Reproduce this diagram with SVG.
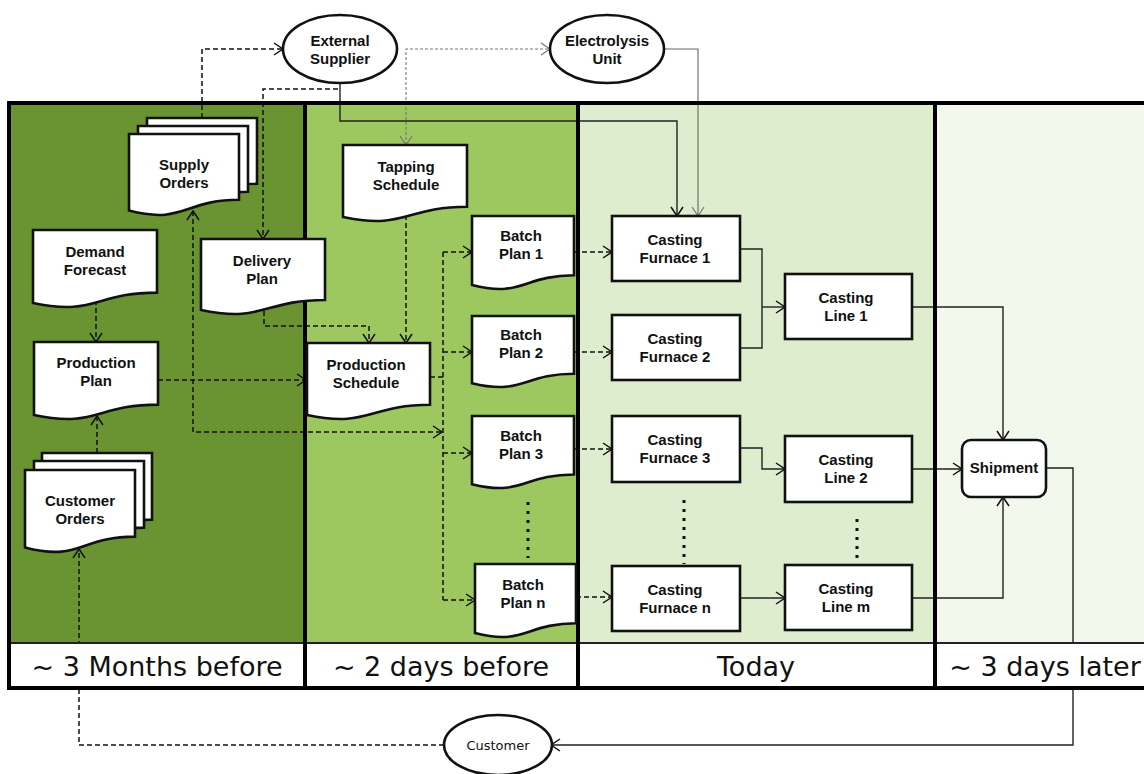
<svg xmlns="http://www.w3.org/2000/svg" width="1144" height="774" viewBox="0 0 1144 774">
  <style>
    .node { fill: #ffffff; stroke: #111111; stroke-width: 2.6; }
    .t { font-family: "Liberation Sans", Arial, sans-serif; font-weight: bold; font-size: 15px; text-anchor: middle; fill: #111111; }
    .lbl { font-family: "DejaVu Sans", Verdana, sans-serif; font-size: 27px; text-anchor: middle; fill: #111111; }
    .small { font-family: "DejaVu Sans", Verdana, sans-serif; font-size: 13px; text-anchor: middle; fill: #111111; }
    .d { fill: none; stroke: #111111; stroke-width: 1.5; stroke-dasharray: 5 3; }
    .s { fill: none; stroke: #222222; stroke-width: 1.4; }
    .gs { fill: none; stroke: #666666; stroke-width: 1.1; }
    .gd { fill: none; stroke: #777777; stroke-width: 1.1; stroke-dasharray: 3 2; }
    .dots { fill: none; stroke: #111111; stroke-width: 3; stroke-dasharray: 3 6; }
    .border { fill: none; stroke: #000000; stroke-width: 4; }
  </style>
  <defs>
    <marker id="ah" viewBox="0 0 12 14" refX="11" refY="7" markerWidth="12" markerHeight="14" markerUnits="userSpaceOnUse" orient="auto-start-reverse">
      <path d="M2,1 L11,7 L2,13" fill="none" stroke="#111111" stroke-width="1.5"/>
    </marker>
    <marker id="ahg" viewBox="0 0 12 14" refX="11" refY="7" markerWidth="12" markerHeight="14" markerUnits="userSpaceOnUse" orient="auto-start-reverse">
      <path d="M2,1 L11,7 L2,13" fill="none" stroke="#777777" stroke-width="1.2"/>
    </marker>
  </defs>

  <rect width="1144" height="774" fill="#ffffff"/>

  <!-- time phase panels -->
  <g id="panels">
    <rect x="9" y="103" width="296" height="585" fill="#6A9432"/>
    <rect x="305" y="103" width="273" height="585" fill="#9DC85F"/>
    <rect x="578" y="103" width="357" height="585" fill="#DFEDCF"/>
    <rect x="935" y="103" width="220" height="585" fill="#F2F8EC"/>
  </g>

  <!-- connectors -->
  <g id="connectors">
    <path class="d" d="M202,118 V49 H283" marker-end="url(#ah)"/>
    <path class="d" d="M338,89 H263 V239" marker-end="url(#ah)"/>
    <path class="s" d="M340,83 V121 H677 V216" marker-end="url(#ah)"/>
    <path class="gd" d="M406,145 V49 H550" marker-start="url(#ahg)" marker-end="url(#ahg)"/>
    <path class="gs" d="M665,49 H698 V216" marker-end="url(#ahg)"/>

    <path class="d" d="M96,300 V342" marker-end="url(#ah)"/>
    <path class="d" d="M97,453 V416" marker-end="url(#ah)"/>
    <path class="d" d="M444,745 H79 V549" marker-end="url(#ah)"/>
    <path class="d" d="M158,380 H306" marker-end="url(#ah)"/>
    <path class="d" d="M193,211 V432 H442" marker-start="url(#ah)" marker-end="url(#ah)"/>
    <path class="d" d="M264,311 V326 H369 V343" marker-end="url(#ah)"/>
    <path class="d" d="M406,215 V343" marker-end="url(#ah)"/>

    <path class="d" d="M430,377 H443"/>
    <path class="d" d="M443,252 V600"/>
    <path class="d" d="M443,252 H472" marker-end="url(#ah)"/>
    <path class="d" d="M443,352 H472" marker-end="url(#ah)"/>
    <path class="d" d="M443,453 H472" marker-end="url(#ah)"/>
    <path class="d" d="M443,600 H475" marker-end="url(#ah)"/>

    <path class="d" d="M574,252 H612" marker-end="url(#ah)"/>
    <path class="d" d="M574,352 H612" marker-end="url(#ah)"/>
    <path class="d" d="M574,449 H612" marker-end="url(#ah)"/>
    <path class="d" d="M576,597 H612" marker-end="url(#ah)"/>

    <path class="s" d="M740,249 H762 V348 H740"/>
    <path class="s" d="M762,307 H785" marker-end="url(#ah)"/>
    <path class="s" d="M740,448 H762 V469 H785" marker-end="url(#ah)"/>
    <path class="s" d="M740,598 H785" marker-end="url(#ah)"/>

    <path class="s" d="M912,307 H1003 V440" marker-end="url(#ah)"/>
    <path class="s" d="M912,469 H962" marker-end="url(#ah)"/>
    <path class="s" d="M912,598 H1003 V497" marker-end="url(#ah)"/>
    <path class="s" d="M1046,468 H1073 V745 H551" marker-end="url(#ah)"/>

    <path class="dots" d="M528,502 V558"/>
    <path class="dots" d="M684,500 V564"/>
    <path class="dots" d="M857,519 V558"/>
  </g>

  <!-- time labels band and panel borders -->
  <g id="timeline">
    <rect x="9" y="643" width="1146" height="45" fill="#ffffff"/>
    <line x1="9" y1="643" x2="1155" y2="643" stroke="#222222" stroke-width="2"/>
    <rect class="border" x="9" y="103" width="296" height="585"/>
    <rect class="border" x="305" y="103" width="273" height="585"/>
    <rect class="border" x="578" y="103" width="357" height="585"/>
    <rect class="border" x="935" y="103" width="220" height="585"/>
    <text class="lbl" x="157" y="676">~ 3 Months before</text>
    <text class="lbl" x="441" y="676">~ 2 days before</text>
    <text class="lbl" x="756" y="676">Today</text>
    <text class="lbl" x="1045" y="676">~ 3 days later</text>
  </g>

  <g id="external-supplier">
    <ellipse class="node" cx="340" cy="49" rx="57" ry="34"/>
    <text class="t" x="340" y="46">External</text>
    <text class="t" x="340" y="64">Supplier</text>
  </g>

  <g id="electrolysis-unit">
    <ellipse class="node" cx="607" cy="49" rx="57" ry="34"/>
    <text class="t" x="607" y="46">Electrolysis</text>
    <text class="t" x="607" y="64">Unit</text>
  </g>

  <g id="customer">
    <ellipse class="node" cx="498" cy="745" rx="54" ry="30"/>
    <text class="small" x="498" y="750">Customer</text>
  </g>

  <g id="supply-orders">
    <path class="node" d="M147,118 H257 V183.8 C202,183.8 202,208.8 147,194.6 Z"/>
    <path class="node" d="M138,126 H248 V191.8 C193,191.8 193,216.8 138,202.6 Z"/>
    <path class="node" d="M129,134 H239 V199.8 C184,199.8 184,224.8 129,210.6 Z"/>
    <text class="t" x="184" y="170">Supply</text>
    <text class="t" x="184" y="188">Orders</text>
  </g>

  <g id="demand-forecast">
    <path class="node" d="M33,230 H157 V292.6 C95,292.6 95,316.3 33,302.9 Z"/>
    <text class="t" x="95" y="257">Demand</text>
    <text class="t" x="95" y="275">Forecast</text>
  </g>

  <g id="delivery-plan">
    <path class="node" d="M201,239 H325 V300 C263,300 263,323.1 201,310 Z"/>
    <text class="t" x="262" y="266">Delivery</text>
    <text class="t" x="262" y="284">Plan</text>
  </g>

  <g id="production-plan">
    <path class="node" d="M34,342 H158 V404.6 C96,404.6 96,428.3 34,414.9 Z"/>
    <text class="t" x="96" y="368">Production</text>
    <text class="t" x="96" y="386">Plan</text>
  </g>

  <g id="customer-orders">
    <path class="node" d="M42,453 H152 V519.6 C97,519.6 97,544.9 42,530.5 Z"/>
    <path class="node" d="M34,461 H144 V527.6 C89,527.6 89,552.9 34,538.5 Z"/>
    <path class="node" d="M25,470 H135 V536.6 C80,536.6 80,561.9 25,547.5 Z"/>
    <text class="t" x="80" y="506">Customer</text>
    <text class="t" x="80" y="524">Orders</text>
  </g>

  <g id="tapping-schedule">
    <path class="node" d="M343,145 H467 V206.8 C405,206.8 405,230.2 343,216.9 Z"/>
    <text class="t" x="406" y="172">Tapping</text>
    <text class="t" x="406" y="190">Schedule</text>
  </g>

  <g id="production-schedule">
    <path class="node" d="M307,343 H430 V404.8 C368.5,404.8 368.5,428.2 307,414.9 Z"/>
    <text class="t" x="366" y="370">Production</text>
    <text class="t" x="366" y="388">Schedule</text>
  </g>

  <g id="batch-plan-1">
    <path class="node" d="M472,216 H574 V275.3 C523,275.3 523,297.9 472,285.1 Z"/>
    <text class="t" x="521" y="241">Batch</text>
    <text class="t" x="521" y="259">Plan 1</text>
  </g>

  <g id="batch-plan-2">
    <path class="node" d="M472,316 H574 V373.7 C523,373.7 523,395.7 472,383.2 Z"/>
    <text class="t" x="521" y="340">Batch</text>
    <text class="t" x="521" y="358">Plan 2</text>
  </g>

  <g id="batch-plan-3">
    <path class="node" d="M472,416 H574 V474.5 C523,474.5 523,496.8 472,484.2 Z"/>
    <text class="t" x="521" y="441">Batch</text>
    <text class="t" x="521" y="459">Plan 3</text>
  </g>

  <g id="batch-plan-n">
    <path class="node" d="M475,564 H576 V623.3 C525.5,623.3 525.5,645.9 475,633.1 Z"/>
    <text class="t" x="523" y="590">Batch</text>
    <text class="t" x="523" y="608">Plan n</text>
  </g>

  <g id="casting-furnace-1">
    <rect class="node" x="612" y="216" width="128" height="65"/>
    <text class="t" x="675" y="245">Casting</text>
    <text class="t" x="675" y="263">Furnace 1</text>
  </g>

  <g id="casting-furnace-2">
    <rect class="node" x="612" y="315" width="128" height="65"/>
    <text class="t" x="675" y="344">Casting</text>
    <text class="t" x="675" y="362">Furnace 2</text>
  </g>

  <g id="casting-furnace-3">
    <rect class="node" x="612" y="416" width="128" height="66"/>
    <text class="t" x="675" y="445">Casting</text>
    <text class="t" x="675" y="463">Furnace 3</text>
  </g>

  <g id="casting-furnace-n">
    <rect class="node" x="612" y="566" width="128" height="65"/>
    <text class="t" x="675" y="595">Casting</text>
    <text class="t" x="675" y="613">Furnace n</text>
  </g>

  <g id="casting-line-1">
    <rect class="node" x="785" y="274" width="127" height="65"/>
    <text class="t" x="846" y="303">Casting</text>
    <text class="t" x="846" y="321">Line 1</text>
  </g>

  <g id="casting-line-2">
    <rect class="node" x="785" y="436" width="127" height="66"/>
    <text class="t" x="846" y="465">Casting</text>
    <text class="t" x="846" y="483">Line 2</text>
  </g>

  <g id="casting-line-m">
    <rect class="node" x="785" y="565" width="127" height="65"/>
    <text class="t" x="846" y="594">Casting</text>
    <text class="t" x="846" y="612">Line m</text>
  </g>

  <g id="shipment">
    <rect class="node" x="962" y="440" width="84" height="57" rx="9" ry="9"/>
    <text class="t" x="1004" y="473">Shipment</text>
  </g>
</svg>
